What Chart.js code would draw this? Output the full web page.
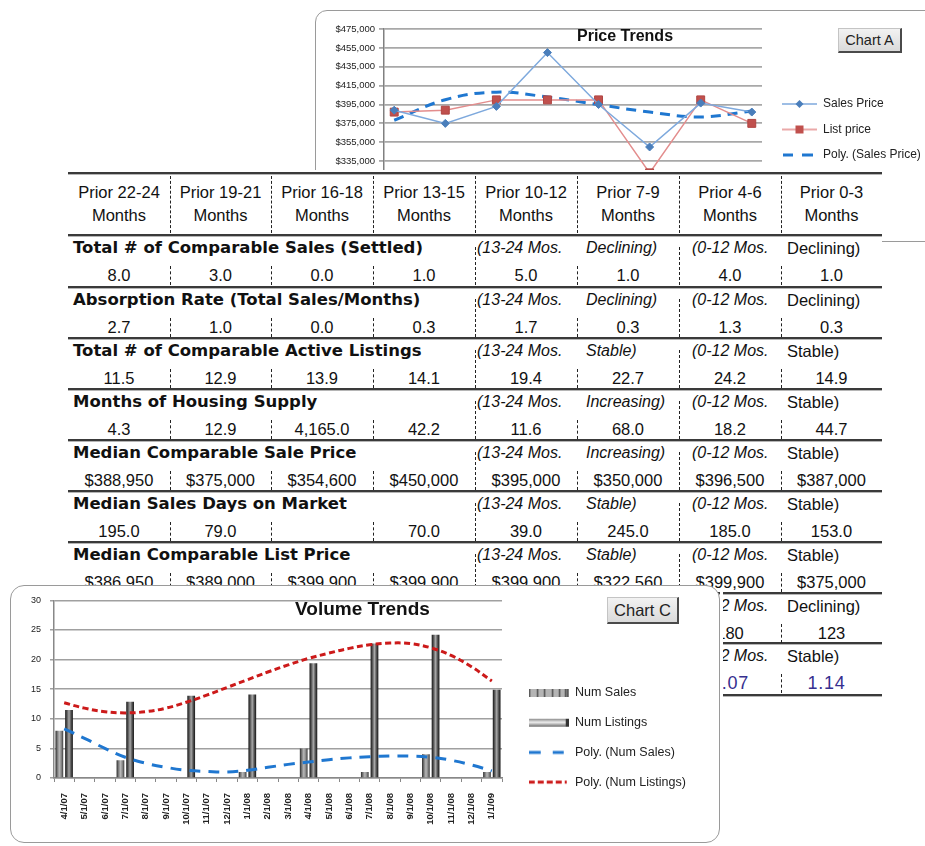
<!DOCTYPE html>
<html>
<head>
<meta charset="utf-8">
<title>Price and Volume Trends</title>
<script src="https://cdn.jsdelivr.net/npm/chart.js@4.4.1/dist/chart.umd.min.js"></script>
<style>
  html, body { margin:0; padding:0; width:925px; height:846px; overflow:hidden; background:#fff; }
  body { position:relative; font-family:"Liberation Sans", Arial, sans-serif; color:#111; }
  .box { position:absolute; box-sizing:border-box; background:#fff; border:1px solid #9a9a9a; overflow:hidden; }
  #boxA { left:315px; top:10px; width:640px; height:232px; border-radius:12px; z-index:1; }
  #boxC { left:10px; top:585px; width:710px; height:258px; border-radius:14px; z-index:3; }
  #stripC { position:absolute; left:720px; top:592px; width:3px; height:248px; background:#fff; z-index:3; }
  .wrap { position:absolute; left:0; top:0; }
  #wrapA { width:620px; height:230px; }
  #wrapC { width:708px; height:256px; }
  .btn { position:absolute; box-sizing:border-box; background:linear-gradient(#f2f2f2,#dadada); border:1px solid #c4c4c4; border-right:2px solid #4a4a4a; border-bottom:2px solid #4a4a4a; color:#222; text-align:center; z-index:5; white-space:nowrap; }
  #btnA { left:522px; top:17px; width:64px; height:25px; font-size:14.5px; line-height:22px; }
  #btnC { left:596px; top:11px; width:72px; height:27px; font-size:16.5px; line-height:24px; }
  #tbl { position:absolute; left:68px; top:170px; width:814px; height:528px; background:#fff; z-index:2; }
  .hl { position:absolute; left:0; width:814px; height:3px; box-sizing:border-box; border-top:2px solid #3a3a3a; border-bottom:1px solid #b5b5b5; }
  .vs { position:absolute; width:0; border-left:1px dashed #222; }
  .t { position:absolute; white-space:nowrap; height:24px; line-height:24px; }
  .hd { text-align:center; font-size:16.5px; }
  .ttl { font-family:"DejaVu Sans", sans-serif; font-weight:bold; font-size:16.5px; }
  .it { font-style:italic; font-size:16px; }
  .nm { font-size:16.5px; }
  .val { text-align:center; font-size:16.5px; }
  .big { font-size:18px; color:#362f8f; letter-spacing:0.8px; }
  .shift { margin-left:-5px; }
</style>
</head>
<body>
<div id="boxA" class="box">
  <div id="wrapA" class="wrap"><canvas id="chartA"></canvas></div>
  <div id="btnA" class="btn">Chart A</div>
</div>
<div id="tbl"></div>
<div id="boxC" class="box">
  <div id="wrapC" class="wrap"><canvas id="chartC"></canvas></div>
  <div id="btnC" class="btn">Chart C</div>
</div>
<div id="stripC"></div>
<script>
// ---------------- DATA ----------------
const periods = ['Prior 22-24', 'Prior 19-21', 'Prior 16-18', 'Prior 13-15', 'Prior 10-12', 'Prior 7-9', 'Prior 4-6', 'Prior 0-3'];

// Chart A (Price Trends)
const salesPrice = [388950, 375000, 393000, 450000, 395000, 350000, 396500, 387000];
const listPrice = [386950, 389000, 399900, 399900, 399900, 322560, 399900, 375000];
const polySalesPrice = [378300, 400100, 408100, 402900, 394800, 387000, 381800, 388100];

// Chart C (Volume Trends)
const months = ['4/1/07', '5/1/07', '6/1/07', '7/1/07', '8/1/07', '9/1/07', '10/1/07', '11/1/07', '12/1/07',
  '1/1/08', '2/1/08', '3/1/08', '4/1/08', '5/1/08', '6/1/08', '7/1/08', '8/1/08', '9/1/08', '10/1/08', '11/1/08', '12/1/08', '1/1/09'];
const numSalesQ = [8, 3, 0, 1, 5, 1, 4, 1];
const numListingsQ = [11.5, 12.9, 13.9, 14.1, 19.4, 22.7, 24.2, 14.9];
const polyNumSales = [8.3, 6.7, 5.0, 3.5, 2.5, 1.8, 1.3, 1.1, 1.0, 1.3, 1.8, 2.3, 2.7, 3.1, 3.4, 3.6, 3.7, 3.7, 3.5, 3.0, 2.2, 1.2];
const polyNumListings = [12.7, 11.8, 11.2, 11.0, 11.2, 11.8, 12.8, 14.0, 15.3, 16.6, 17.9, 19.1, 20.2, 21.1, 21.9, 22.5, 22.8, 22.7, 22.0, 20.7, 18.8, 16.4];

// Table
const absorptionRate = ['2.7', '1.0', '0.0', '0.3', '1.7', '0.3', '1.3', '0.3'];
const monthsSupply = ['4.3', '12.9', '4,165.0', '42.2', '11.6', '68.0', '18.2', '44.7'];
const medianSalePrice = [388950, 375000, 354600, 450000, 395000, 350000, 396500, 387000];
const medianDays = ['195.0', '79.0', '', '70.0', '39.0', '245.0', '185.0', '153.0'];
const medianListPrice = listPrice;
const row8Values = ['', '', '', '', '', '', '180', '123'];
const row9Values = ['', '', '', '', '', '', '1.07', '1.14'];

const money = v => '$' + v.toLocaleString('en-US');

const sections = [
  { title: 'Total # of Comparable Sales (Settled)', values: numSalesQ.map(v => v.toFixed(1)), t1: 'Declining)', t2: 'Declining)' },
  { title: 'Absorption Rate (Total Sales/Months)', values: absorptionRate, t1: 'Declining)', t2: 'Declining)' },
  { title: 'Total # of Comparable Active Listings', values: numListingsQ.map(v => v.toFixed(1)), t1: 'Stable)', t2: 'Stable)' },
  { title: 'Months of Housing Supply', values: monthsSupply, t1: 'Increasing)', t2: 'Stable)' },
  { title: 'Median Comparable Sale Price', values: medianSalePrice.map(money), t1: 'Increasing)', t2: 'Stable)' },
  { title: 'Median Sales Days on Market', values: medianDays, t1: 'Stable)', t2: 'Stable)' },
  { title: 'Median Comparable List Price', values: medianListPrice.map(money), t1: 'Stable)', t2: 'Stable)' },
  { title: '', values: row8Values, t1: null, t2: 'Declining)' },
  { title: '', values: row9Values, t1: null, t2: 'Stable)', big: true }
];

// ---------------- TABLE ----------------
(function buildTable() {
  const T = document.getElementById('tbl');
  const Y0 = 170;
  const colX = [0, 102, 203, 305, 407, 509, 611, 713, 814];
  const lines = [173, 235, 287, 338, 389, 440, 491, 542, 593, 643, 695];
  function add(cls, css, text) {
    const d = document.createElement('div');
    d.className = cls;
    for (const k in css) d.style[k] = css[k];
    if (text != null) d.textContent = text;
    T.appendChild(d);
    return d;
  }
  const px = v => v + 'px';
  lines.forEach(y => add('hl', { top: px(y - Y0 - 1) }));
  periods.forEach((p, i) => {
    add('t hd', { left: px(colX[i]), width: px(colX[i + 1] - colX[i]), top: px(192 - Y0 - 12) }, p);
    add('t hd', { left: px(colX[i]), width: px(colX[i + 1] - colX[i]), top: px(215 - Y0 - 12) }, 'Months');
  });
  for (let i = 1; i < 8; i++) add('vs', { left: px(colX[i]), top: px(176 - Y0), height: '57px' });
  sections.forEach((s, k) => {
    const L = lines[k + 1];
    const tc = L + 13 - Y0, vc = L + 40 - Y0;
    if (s.title) add('t ttl', { left: '5px', top: px(tc - 12) }, s.title);
    if (s.t1) {
      add('t it', { left: px(colX[4] + 2), top: px(tc - 12) }, '(13-24 Mos.');
      add('t it', { left: px(colX[5] + 9), top: px(tc - 12) }, s.t1);
    }
    add('t it', { left: px(colX[6] + 13), top: px(tc - 12) }, '(0-12 Mos.');
    add('t nm', { left: px(colX[7] + 6), top: px(tc - 12) }, s.t2);
    s.values.forEach((v, i) => {
      if (v !== '') add('t val' + (s.big ? ' big' : '') + (s.big && i === 7 ? ' shift' : ''),
        { left: px(colX[i]), width: px(colX[i + 1] - colX[i]), top: px(vc - 12) }, v);
    });
    for (let i = 1; i < 8; i++) {
      const tall = (i === 4 || i === 6);
      const top = tall ? L + 12 : L + 31;
      add('vs', { left: px(colX[i]), top: px(top - Y0), height: px(L + 50 - top) });
    }
  });
})();

// ---------------- CHARTS ----------------
Chart.defaults.font.family = '"Liberation Sans", Arial, sans-serif';

const placeBoxes = {
  id: 'placeBoxes',
  afterLayout(chart, args, opts) {
    const t = chart.titleBlock;
    if (t && opts.titleX != null) {
      const w = t.width, h = t.height;
      t.left = opts.titleX - w / 2; t.right = t.left + w;
      t.top = opts.titleY - h / 2; t.bottom = t.top + h;
    }
    const lg = chart.legend;
    if (lg && opts.legendX != null) {
      const pad = lg.options.labels.padding;
      const fs = lg.options.labels.font.size;
      const h = lg.height;
      lg.left = opts.legendX - pad; lg.right = lg.left + 320; lg.width = 320;
      lg.top = opts.legendY - fs / 2 - pad; lg.bottom = lg.top + h;
    }
  }
};

function icon(w, h, draw) {
  const c = document.createElement('canvas');
  c.width = w; c.height = h;
  draw(c.getContext('2d'), w, h);
  return c;
}
function seg(g, x1, x2, y) { g.beginPath(); g.moveTo(x1, y); g.lineTo(x2, y); g.stroke(); }

const iconsA = [
  icon(40, 12, g => {
    g.strokeStyle = '#7ea9dd'; g.lineWidth = 1.5; seg(g, 5, 40, 6);
    g.fillStyle = '#4a7ebb'; g.beginPath(); g.moveTo(22.5, 2); g.lineTo(26.5, 6); g.lineTo(22.5, 10); g.lineTo(18.5, 6); g.closePath(); g.fill();
  }),
  icon(40, 12, g => {
    g.strokeStyle = '#e38d8d'; g.lineWidth = 1.5; seg(g, 5, 40, 6);
    g.fillStyle = '#c0504d'; g.fillRect(18.5, 2, 8, 8);
  }),
  icon(40, 12, g => {
    g.strokeStyle = '#1f77d0'; g.lineWidth = 3; seg(g, 6, 16, 6); seg(g, 25, 36, 6);
  })
];

const iconsC = [
  icon(40, 12, g => {
    g.fillStyle = '#b4b4b4'; g.fillRect(0, 2, 40, 8);
    g.fillStyle = '#505050';
    [0, 8, 15, 23, 30, 36, 38].forEach(x => g.fillRect(x, 2, 1.5, 8));
  }),
  icon(40, 12, g => {
    const gr = g.createLinearGradient(0, 2, 0, 10);
    gr.addColorStop(0, '#8a8a8a'); gr.addColorStop(0.45, '#eeeeee'); gr.addColorStop(1, '#6a6a6a');
    g.fillStyle = gr; g.fillRect(0, 2, 40, 8);
    g.fillStyle = '#333'; g.fillRect(37, 2, 3, 8);
  }),
  icon(40, 12, g => {
    g.strokeStyle = '#1f77d0'; g.lineWidth = 3; seg(g, 0, 12, 6); seg(g, 24, 35, 6);
  }),
  icon(40, 12, g => {
    g.strokeStyle = '#cc1a1a'; g.lineWidth = 3; seg(g, 0, 6, 6); seg(g, 9, 15, 6); seg(g, 18, 24, 6); seg(g, 27, 33, 6); seg(g, 36, 38, 6);
  })
];

function legendFrom(icons) {
  return chart => chart.data.datasets.map((ds, i) => ({
    text: ds.label, pointStyle: icons[i], fillStyle: 'rgba(0,0,0,0)', strokeStyle: 'rgba(0,0,0,0)',
    lineWidth: 0, hidden: false, datasetIndex: i, fontColor: '#222'
  }));
}

// Chart A
new Chart(document.getElementById('chartA'), {
  type: 'line',
  data: {
    datasets: [
      { label: 'Sales Price', data: salesPrice.map((v, i) => ({ x: i, y: v })), borderColor: '#7ea9dd', borderWidth: 1.5,
        pointStyle: 'rectRot', pointRadius: 4, pointBackgroundColor: '#4a7ebb', pointBorderColor: '#4a7ebb', pointBorderWidth: 1, tension: 0, order: 0 },
      { label: 'List price', data: listPrice.map((v, i) => ({ x: i, y: v })), borderColor: '#e38d8d', borderWidth: 1.5,
        pointStyle: 'rect', pointRadius: 5.6, pointBackgroundColor: '#c0504d', pointBorderColor: '#b04542', pointBorderWidth: 1, tension: 0, order: 1 },
      { label: 'Poly. (Sales Price)', data: polySalesPrice.map((v, i) => ({ x: i, y: v })), borderColor: '#1f77d0', borderWidth: 3,
        borderDash: [10, 7], pointRadius: 0, tension: 0.4, order: 2 }
    ]
  },
  options: {
    responsive: true, maintainAspectRatio: false, animation: false, events: [],
    layout: { padding: { left: 19, right: 34, top: 0, bottom: 61 } },
    scales: {
      x: { type: 'linear', min: -0.2, max: 7.2, display: false },
      y: {
        min: 315000, max: 475000,
        afterFit(s) { s.width = 49; },
        ticks: { stepSize: 20000, padding: 4, color: '#222', font: { size: 9.5 }, callback: v => money(v) },
        grid: { color: '#a8a8a8', lineWidth: 1.8, tickLength: 5 },
        border: { color: '#808080', width: 1.5 }
      }
    },
    plugins: {
      title: { display: true, text: 'Price Trends', color: '#111', font: { size: 16, weight: 'bold', lineHeight: 1.125 }, padding: 0 },
      legend: { position: 'right', align: 'start', maxWidth: 140,
        labels: { usePointStyle: true, pointStyleWidth: 40, boxHeight: 12, padding: 13.5, font: { size: 12 }, color: '#222', generateLabels: legendFrom(iconsA) } },
      tooltip: { enabled: false },
      placeBoxes: { titleX: 309, titleY: 26, legendX: 461, legendY: 93 }
    }
  },
  plugins: [placeBoxes]
});

// Chart C
function barFill(stops, slotIndex) {
  return c => {
    const chart = c.chart;
    const xs = chart.scales && chart.scales.x;
    if (c.type !== 'data' || !xs || !chart.chartArea) return stops[2];
    const n = chart.data.labels.length;
    const cw = (xs.right - xs.left) / n;
    const cx = xs.getPixelForValue(c.dataIndex);
    const slot = cw * 0.95 / 2;
    const center = cx + (slotIndex === 0 ? -slot / 2 : slot / 2);
    const half = slot * 0.8 / 2;
    const g = chart.ctx.createLinearGradient(center - half, 0, center + half, 0);
    stops.forEach((col, k) => g.addColorStop(k / (stops.length - 1), col));
    return g;
  };
}
const salesStops = ['#2a2a2a', '#7a7a7a', '#b8b8b8', '#8a8a8a', '#3a3a3a'];
const listingStops = ['#151515', '#5a5a5a', '#a8a8a8', '#555555', '#151515'];

const salesBars = months.map((m, i) => i % 3 === 0 ? numSalesQ[i / 3] : null);
const listingBars = months.map((m, i) => i % 3 === 0 ? numListingsQ[i / 3] : null);

new Chart(document.getElementById('chartC'), {
  type: 'bar',
  data: {
    labels: months,
    datasets: [
      { type: 'bar', label: 'Num Sales', data: salesBars, backgroundColor: barFill(salesStops, 0), borderWidth: 0,
        categoryPercentage: 0.95, barPercentage: 0.8, order: 1 },
      { type: 'bar', label: 'Num Listings', data: listingBars, backgroundColor: barFill(listingStops, 1), borderWidth: 0,
        categoryPercentage: 0.95, barPercentage: 0.8, order: 1 },
      { type: 'line', label: 'Poly. (Num Sales)', data: polyNumSales, borderColor: '#1f77d0', borderWidth: 3, borderDash: [11, 8],
        pointRadius: 0, tension: 0.4, fill: false, order: 0 },
      { type: 'line', label: 'Poly. (Num Listings)', data: polyNumListings, borderColor: '#cc1a1a', borderWidth: 3, borderDash: [6, 3.5],
        pointRadius: 0, tension: 0.4, fill: false, order: 0 }
    ]
  },
  options: {
    responsive: true, maintainAspectRatio: false, animation: false, events: [],
    layout: { padding: { left: 20, right: 67, top: 0, bottom: 0 } },
    scales: {
      x: {
        afterFit(s) { s.height = 64; },
        ticks: { minRotation: 90, maxRotation: 90, autoSkip: false, padding: 11, font: { size: 9.5, weight: 'bold' }, color: '#222' },
        grid: { display: true, drawOnChartArea: false, tickLength: 4, color: '#888', offset: true },
        border: { color: '#888', width: 1.5 }
      },
      y: {
        min: 0, max: 30,
        afterFit(s) { s.width = 23; },
        ticks: { stepSize: 5, padding: 9, font: { size: 9 }, color: '#222' },
        grid: { color: '#a0a0a0', lineWidth: 1.5, tickLength: 4 },
        border: { color: '#888', width: 1.5 }
      }
    },
    plugins: {
      title: { display: true, text: 'Volume Trends', color: '#111', font: { size: 19, weight: 'bold', lineHeight: 14 / 19 }, padding: 0 },
      legend: { position: 'right', align: 'start', maxWidth: 150,
        labels: { usePointStyle: true, pointStyleWidth: 40, boxHeight: 12.5, padding: 17.2, font: { size: 12.5 }, color: '#222', generateLabels: legendFrom(iconsC) } },
      tooltip: { enabled: false },
      placeBoxes: { titleX: 351.5, titleY: 24, legendX: 517.75, legendY: 107 }
    }
  },
  plugins: [placeBoxes]
});
</script>
</body>
</html>
